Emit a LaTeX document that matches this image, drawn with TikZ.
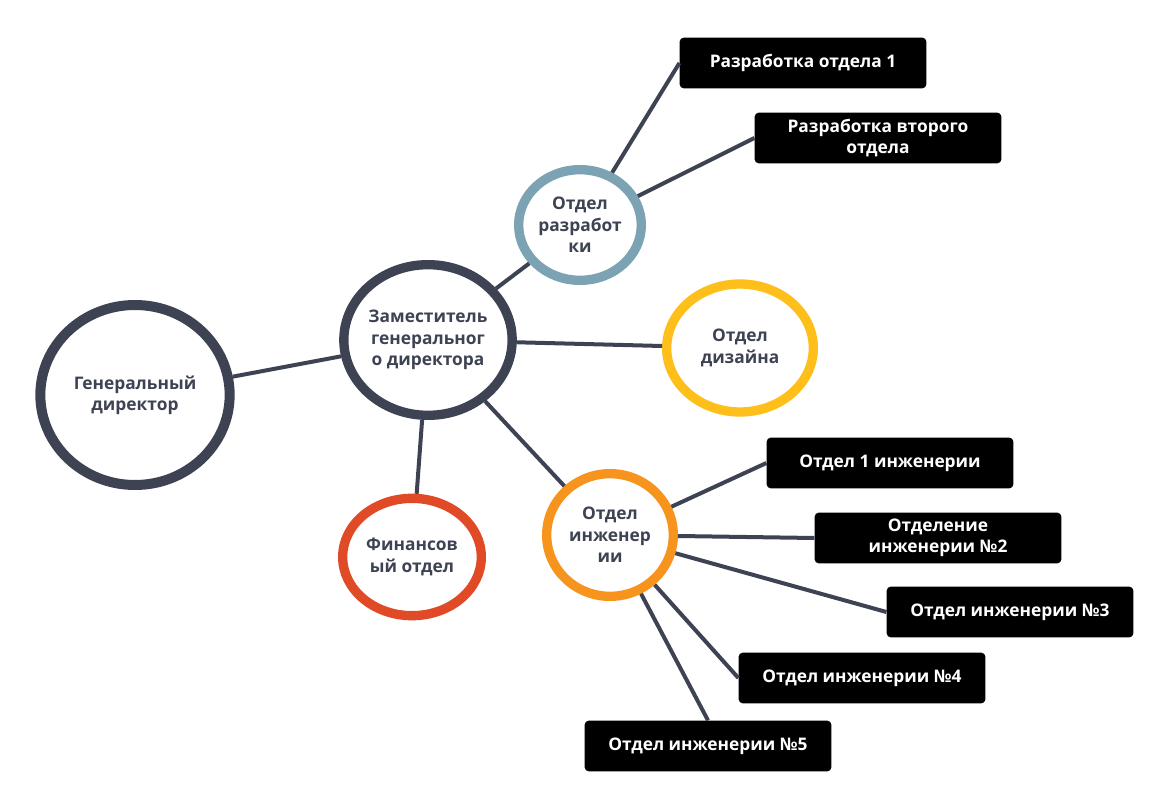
\documentclass[tikz,border=0pt]{standalone}
\usepackage{fontspec}
\setmainfont{Open Sans}
\usetikzlibrary{shapes.geometric}
\definecolor{dk}{HTML}{3D4352}
\definecolor{teal}{HTML}{7BA3B3}
\definecolor{yel}{HTML}{FFBF1A}
\definecolor{red}{HTML}{E04A26}
\definecolor{org}{HTML}{F7941D}
\begin{document}
\begin{tikzpicture}[x=0.75pt,y=-0.75pt,
  circ/.style={ellipse,draw,fill=white,line width=7pt,inner sep=0pt,text=dk,align=center,font=\fontsize{13}{16}\selectfont\bfseries},
  box/.style={rectangle,rounded corners=3pt,fill=black,text=white,minimum width=185pt,minimum height=38pt,align=center,font=\fontsize{13}{16}\selectfont\bfseries},
  ln/.style={draw=dk,line width=3pt}]
\useasboundingbox (0,0) rectangle (1171,809);
\node[circ,draw=dk,line width=7.5pt,minimum width=142pt,minimum height=135pt] (gd) at (135,395) {Генеральный\\директор};
\node[circ,draw=dk,minimum width=118pt,minimum height=113pt] (zam) at (428,340) {Заместитель\\генеральног\\о директора};
\node[circ,draw=teal,minimum width=92pt,minimum height=83pt] (raz) at (580,225) {Отдел\\разработ\\ки};
\node[circ,draw=yel,minimum width=110pt,minimum height=96pt] (diz) at (740,348) {Отдел\\дизайна};
\node[circ,draw=red,minimum width=104pt,minimum height=88pt] (fin) at (412,557) {Финансов\\ый отдел};
\node[circ,draw=org,minimum width=95pt,minimum height=92pt] (ing) at (610,535) {Отдел\\инженер\\ии};
\node[box] (b1) at (803,63) {Разработка отдела 1};
\node[box] (b2) at (878,138) {Разработка второго\\отдела};
\node[box] (e1) at (890,463) {Отдел 1 инженерии};
\node[box] (e2) at (938,538) {Отделение\\инженерии №2};
\node[box] (e3) at (1010,612) {Отдел инженерии №3};
\node[box] (e4) at (862,678) {Отдел инженерии №4};
\node[box] (e5) at (708,746) {Отдел инженерии №5};
\draw[ln] (gd) -- (zam);
\draw[ln] (zam) -- (raz);
\draw[ln] (zam) -- (diz);
\draw[ln] (zam) -- (fin);
\draw[ln] (zam) -- (ing);
\draw[ln] (raz) -- (b1.west);
\draw[ln] (raz) -- (b2.west);
\draw[ln] (ing) -- (e1.west);
\draw[ln] (ing) -- (e2.west);
\draw[ln] (ing) -- (e3.west);
\draw[ln] (ing) -- (e4.west);
\draw[ln] (ing) -- (e5.north);
\end{tikzpicture}
\end{document}
